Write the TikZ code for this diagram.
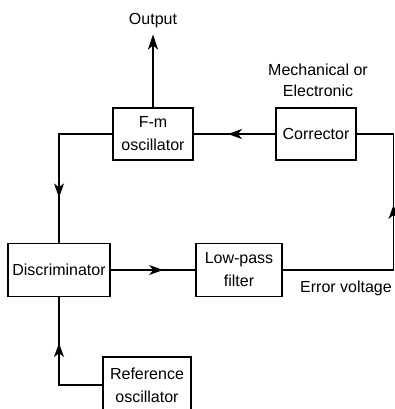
\documentclass[tikz,border=0pt]{standalone}
\usepackage{fontspec}
\setmainfont{Liberation Sans}
\usetikzlibrary{arrows.meta,decorations.markings}

\begin{document}
\begin{tikzpicture}[
  x=1pt,y=-1pt,
  blk/.style={draw=black,line width=1.3pt,inner sep=0pt,align=center,
              font=\fontsize{16}{23}\selectfont},
  lbl/.style={align=center,inner sep=1pt,font=\fontsize{16}{21}\selectfont},
  wire/.style={line width=1.5pt},
  midarrow/.style={postaction={decorate},decoration={markings,
      mark=at position #1 with {\arrow{Stealth[length=14pt,width=10pt,inset=4pt]}}}},
  outarr/.style={line width=2.4pt,-{Stealth[length=15pt,width=10pt,inset=4pt]}}
]
\clip (0,0) rectangle (395,409);

% ---- BLOCKS ----
\node[blk,minimum width=80pt,minimum height=52pt] (fm)   at (153,134) {F-m\\oscillator};
\node[blk,minimum width=80pt,minimum height=52pt] (corr) at (316,134) {Corrector};
\node[blk,minimum width=102pt,minimum height=53pt] (disc) at (59,270) {Discriminator};
\node[blk,minimum width=86pt,minimum height=53pt] (lp)   at (239,270) {Low-pass\\filter};
\node[blk,minimum width=88pt,minimum height=56pt] (ref)  at (147,385) {Reference\\oscillator};

% ---- LABELS ----
\node[lbl] (out)  at (153,21)  {Output};
\node[lbl] (mech) at (318,80)  {Mechanical or\\Electronic};
\node[lbl] (err)  at (346,288) {Error voltage};

% ---- CONNECTIONS ----
\coordinate (edge) at (393.5,270);
\draw[outarr,shorten >=5pt] (fm.north) -- (out.south);
\draw[wire,midarrow=0.58] (corr.west) -- (fm.east);
\draw[wire,midarrow=0.72] (fm.west) -| (disc.north);
\draw[wire,midarrow=0.62] (disc.east) -- (lp.west);
\draw[wire,midarrow=0.65] (ref.west) -| (disc.south);
\draw[wire,midarrow=0.62] (lp.east) -- (edge) |- (corr.east);

\end{tikzpicture}
\end{document}
